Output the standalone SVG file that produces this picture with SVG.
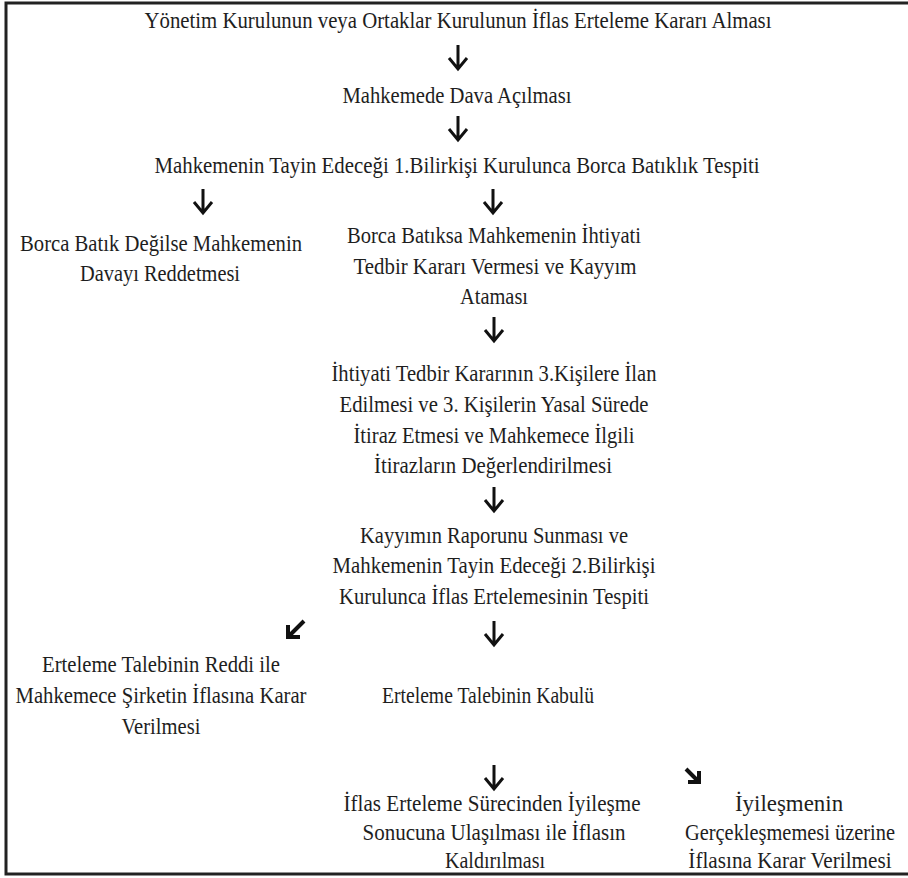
<svg xmlns="http://www.w3.org/2000/svg" width="908" height="878" viewBox="0 0 908 878">
<style>
text{font-family:'Liberation Serif','Times New Roman',serif;font-size:24px;fill:#1e1e1e;text-anchor:middle}
.a{fill:none;stroke:#111;stroke-width:3;stroke-linecap:butt;stroke-linejoin:miter}
.d{fill:none;stroke:#111;stroke-width:4;stroke-linecap:butt;stroke-linejoin:miter}
</style>
<defs>
<path id="dn" class="a" d="M0,0 V24 M-9,13 L0,24 L9,13"/>
<path id="dl" class="d" d="M0,0 L-16,16 M-16,4 V16 H-4"/>
<path id="dr" class="d" d="M0,0 L13,13 M13,2 V13 H2"/>
</defs>
<rect x="6" y="3" width="910" height="871" fill="#fff" stroke="#222" stroke-width="3"/>
<g id="n1"><text x="458" y="28" textLength="627" lengthAdjust="spacingAndGlyphs">Yönetim Kurulunun veya Ortaklar Kurulunun İflas Erteleme Kararı Alması</text></g>
<g id="n2"><text x="457" y="103" textLength="229" lengthAdjust="spacingAndGlyphs">Mahkemede Dava Açılması</text></g>
<g id="n3"><text x="457" y="173" textLength="605" lengthAdjust="spacingAndGlyphs">Mahkemenin Tayin Edeceği 1.Bilirkişi Kurulunca Borca Batıklık Tespiti</text></g>
<g id="n4">
<text x="161" y="251" textLength="282" lengthAdjust="spacingAndGlyphs">Borca Batık Değilse Mahkemenin</text>
<text x="160" y="281" textLength="160" lengthAdjust="spacingAndGlyphs">Davayı Reddetmesi</text>
</g>
<g id="n5">
<text x="494" y="243" textLength="294" lengthAdjust="spacingAndGlyphs">Borca Batıksa Mahkemenin İhtiyati</text>
<text x="495" y="274" textLength="283" lengthAdjust="spacingAndGlyphs">Tedbir Kararı Vermesi ve Kayyım</text>
<text x="494" y="304" textLength="68" lengthAdjust="spacingAndGlyphs">Ataması</text>
</g>
<g id="n6">
<text x="494" y="381" textLength="325" lengthAdjust="spacingAndGlyphs">İhtiyati Tedbir Kararının 3.Kişilere İlan</text>
<text x="494" y="412" textLength="309" lengthAdjust="spacingAndGlyphs">Edilmesi ve 3. Kişilerin Yasal Sürede</text>
<text x="494" y="443" textLength="281" lengthAdjust="spacingAndGlyphs">İtiraz Etmesi ve Mahkemece İlgili</text>
<text x="493" y="473" textLength="238" lengthAdjust="spacingAndGlyphs">İtirazların Değerlendirilmesi</text>
</g>
<g id="n7">
<text x="494" y="543" textLength="268" lengthAdjust="spacingAndGlyphs">Kayyımın Raporunu Sunması ve</text>
<text x="494" y="573" textLength="323" lengthAdjust="spacingAndGlyphs">Mahkemenin Tayin Edeceği 2.Bilirkişi</text>
<text x="494" y="604" textLength="310" lengthAdjust="spacingAndGlyphs">Kurulunca İflas Ertelemesinin Tespiti</text>
</g>
<g id="n8">
<text x="161" y="672" textLength="238" lengthAdjust="spacingAndGlyphs">Erteleme Talebinin Reddi ile</text>
<text x="161" y="703" textLength="291" lengthAdjust="spacingAndGlyphs">Mahkemece Şirketin İflasına Karar</text>
<text x="161" y="734" textLength="79" lengthAdjust="spacingAndGlyphs">Verilmesi</text>
</g>
<g id="n9"><text x="488" y="703" textLength="212" lengthAdjust="spacingAndGlyphs">Erteleme Talebinin Kabulü</text></g>
<g id="n10">
<text x="492" y="811" textLength="297" lengthAdjust="spacingAndGlyphs">İflas Erteleme Sürecinden İyileşme</text>
<text x="494" y="840" textLength="263" lengthAdjust="spacingAndGlyphs">Sonucuna Ulaşılması ile İflasın</text>
<text x="495" y="868" textLength="100" lengthAdjust="spacingAndGlyphs">Kaldırılması</text>
</g>
<g id="n11">
<text transform="translate(789,811) scale(0.955,1)" x="0" y="0">İyileşmenin</text>
<text transform="translate(790,840) scale(0.85,1)" x="0" y="0">Gerçekleşmemesi üzerine</text>
<text transform="translate(790,868) scale(0.884,1)" x="0" y="0">İflasına Karar Verilmesi</text>
</g>
<g id="connectors">
<use href="#dn" x="458" y="45"/>
<use href="#dn" x="458" y="116"/>
<use href="#dn" x="203" y="189"/>
<use href="#dn" x="493" y="189"/>
<use href="#dn" x="494" y="317"/>
<use href="#dn" x="494" y="487"/>
<use href="#dl" x="304" y="621"/>
<use href="#dn" x="494" y="621"/>
<use href="#dn" x="494" y="765"/>
<use href="#dr" x="686" y="769"/>
</g>
</svg>
